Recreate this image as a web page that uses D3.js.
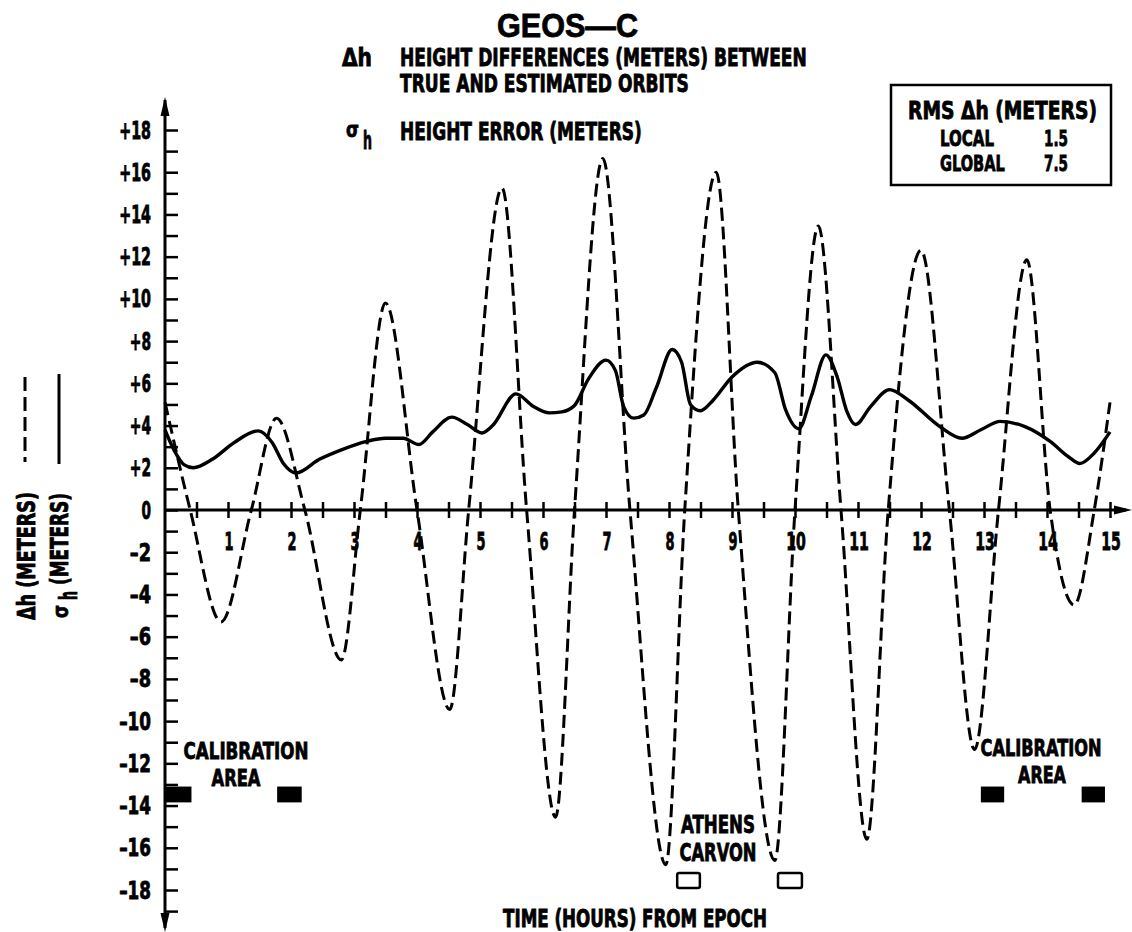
<!DOCTYPE html>
<html><head><meta charset="utf-8">
<script src="https://cdn.jsdelivr.net/npm/d3@7"></script>
<style>body{margin:0;background:#fff}</style>
</head><body>
<svg id="chart" width="1132" height="932"></svg>
<script>
// ---------- data ----------
const xTickValues = [1,2,3,4,5,6,7,8,9,10,11,12,13,14,15];
const xTickLabels = ["1","2","3","4","5","6","7","8","9","10","11","12","13","14","15"];
const yTickValues = [18,16,14,12,10,8,6,4,2,0,-2,-4,-6,-8,-10,-12,-14,-16,-18];
const yTickLabels = ["+18","+16","+14","+12","+10","+8","+6","+4","+2","0","–2","–4","–6","–8","–10","–12","–14","–16","–18"];

// Δh (dashed): [hours, meters]
const deltaH = [[0,5.1],[0.4,0],[0.89,-5.3],[1.37,0],[1.77,4.35],[2.22,0],[2.8,-7.1],[3.1,0],
  [3.5,9.8],[4.0,0],[4.52,-9.45],[4.82,0],[5.35,15.25],[5.74,0],[6.2,-14.55],[6.5,0],
  [6.95,16.65],[7.38,0],[7.95,-16.8],[8.25,0],[8.75,16.0],[9.1,0],[9.68,-16.6],[10.0,0],
  [10.37,13.45],[10.73,0],[11.14,-15.6],[11.48,0],[12.0,12.3],[12.45,0],[12.85,-11.35],[13.23,0],
  [13.68,11.85],[14.05,0],[14.43,-4.5],[14.75,0],[15.0,5.1]];

// σh (solid): [hours, meters]
const sigmaH = [[0,3.8],[0.15,2.8],[0.3,2.15],[0.45,2.0],[0.75,2.4],[1.1,3.2],[1.48,3.75],[1.7,3.2],
  [1.88,2.2],[2.08,1.75],[2.45,2.4],[2.8,2.85],[3.2,3.25],[3.5,3.4],[3.78,3.4],[4.03,3.1],
  [4.25,3.7],[4.55,4.4],[4.8,4.05],[5.03,3.65],[5.2,4.0],[5.57,5.5],[5.85,4.9],[6.1,4.6],
  [6.3,4.65],[6.5,4.95],[6.72,6.2],[7.0,7.1],[7.15,6.6],[7.28,4.9],[7.44,4.35],[7.6,4.5],
  [7.8,5.8],[8.05,7.6],[8.2,7.0],[8.34,5.0],[8.5,4.7],[8.7,5.2],[9.0,6.3],[9.4,7.0],
  [9.68,6.5],[9.85,4.75],[10.06,3.85],[10.26,5.4],[10.49,7.35],[10.67,6.3],[10.82,4.7],
  [10.96,4.05],[11.2,4.9],[11.5,5.7],[11.8,5.2],[12.3,3.95],[12.65,3.4],[12.95,3.8],
  [13.26,4.2],[13.65,3.95],[14.05,3.25],[14.35,2.5],[14.52,2.2],[14.75,2.7],[15.0,3.7]];

const calibrationAreas = [[0,0.42],[1.78,2.17],[12.95,13.32],[14.55,14.92]];
const trackingStations = [[8.13,8.49],[9.73,10.11]];
const rmsRows = [["LOCAL","1.5"],["GLOBAL","7.5"]];

// ---------- drawing ----------
const COND = "'DejaVu Sans Condensed','Liberation Sans Narrow','DejaVu Sans',sans-serif";
const svg = d3.select("#chart");
const x = d3.scaleLinear().domain([0,15]).range([165,1110]);
const y = d3.scaleLinear().domain([-18,18]).range([890,130]);

// text squeezed horizontally to a target width (keeps tall condensed look)
function label(parent, s, px, py, size, width, opts={}) {
  const g = parent.append("g").attr("transform",`translate(${px},${py})${opts.rotate?" rotate(-90)":""}`);
  const t = g.append("text").attr("x",0).attr("y",0)
    .attr("font-family", opts.family || COND).attr("font-weight", opts.weight || "bold")
    .attr("font-size",size).attr("fill","#000")
    .attr("stroke", opts.stroke===0 ? "none" : "#000").attr("stroke-width", opts.stroke===undefined ? 0.8 : opts.stroke)
    .attr("text-anchor", opts.anchor || "start").text(s);
  if (width) {
    const w = t.node().getComputedTextLength();
    t.attr("transform",`scale(${(width/w).toFixed(4)},1)`);
  }
  return g;
}

// y ticks (right side of axis, every meter)
const gy = svg.append("g").attr("transform",`translate(${x(0)},0)`)
  .call(d3.axisRight(y).tickValues(d3.range(-19,19)).tickSize(13).tickFormat(""));
gy.select(".domain").remove();
gy.selectAll(".tick line").attr("stroke","#000").attr("stroke-width",2.5);

// y labels
const gyl = svg.append("g");
yTickValues.forEach((v,i)=>{
  const s = yTickLabels[i];
  label(gyl, s, x(0)-14, y(v)+8.5, 24, s.length===1 ? 9.5 : s.length*10.6, {anchor:"end"});
});

// x ticks every half hour crossing the axis
const halfHours = d3.range(0.5,15.01,0.5);
const gx1 = svg.append("g").attr("transform",`translate(0,${y(0)})`)
  .call(d3.axisBottom(x).tickValues(halfHours).tickSize(8).tickFormat(""));
const gx2 = svg.append("g").attr("transform",`translate(0,${y(0)})`)
  .call(d3.axisTop(x).tickValues(halfHours).tickSize(8).tickFormat(""));
[gx1,gx2].forEach(g=>{g.select(".domain").remove();
  g.selectAll(".tick line").attr("stroke","#000").attr("stroke-width",2.5);});

// x labels
const gxl = svg.append("g");
xTickValues.forEach((v,i)=>{
  const s = xTickLabels[i];
  label(gxl, s, x(v)+1, y(0)+40, 24, s.length===1 ? 9 : s.length*9.8, {anchor:"middle"});
});

// axes lines + arrows
svg.append("line").attr("x1",x(0)).attr("x2",x(0)).attr("y1",100).attr("y2",928)
  .attr("stroke","#000").attr("stroke-width",3);
svg.append("line").attr("x1",x(0)).attr("x2",1126).attr("y1",y(0)).attr("y2",y(0))
  .attr("stroke","#000").attr("stroke-width",3);
svg.append("path").attr("d",`M${x(0)},97 L${x(0)-4.5},116 L${x(0)+4.5},116 Z`).attr("fill","#000");
svg.append("path").attr("d",`M${x(0)},932 L${x(0)-4.5},913 L${x(0)+4.5},913 Z`).attr("fill","#000");
svg.append("path").attr("d",`M1132,${y(0)} L1114,${y(0)-4.5} L1114,${y(0)+4.5} Z`).attr("fill","#000");

// curves
const line = d3.line().x(d=>x(d[0])).y(d=>y(d[1])).curve(d3.curveMonotoneX);
svg.append("path").datum(sigmaH).attr("d",line).attr("fill","none")
  .attr("stroke","#000").attr("stroke-width",3.4).attr("stroke-linejoin","round");
svg.append("path").datum(deltaH).attr("d",line).attr("fill","none")
  .attr("stroke","#000").attr("stroke-width",3).attr("stroke-dasharray","13,6");

// calibration & station boxes
svg.selectAll("rect.cal").data(calibrationAreas).join("rect").attr("class","cal")
  .attr("x",d=>x(d[0])).attr("width",d=>x(d[1])-x(d[0]))
  .attr("y",y(-13.1)).attr("height",y(-13.85)-y(-13.1)).attr("fill","#000");
svg.selectAll("rect.sta").data(trackingStations).join("rect").attr("class","sta")
  .attr("x",d=>x(d[0])).attr("width",d=>x(d[1])-x(d[0]))
  .attr("y",y(-17.2)).attr("height",y(-17.9)-y(-17.2)).attr("rx",2)
  .attr("fill","#fff").attr("stroke","#000").attr("stroke-width",2.5);

// annotations
label(svg,"CALIBRATION",246,759,23,125,{anchor:"middle"});
label(svg,"AREA",236,786,23,49,{anchor:"middle"});
label(svg,"CALIBRATION",1041,756,23,121,{anchor:"middle"});
label(svg,"AREA",1042,783,23,48,{anchor:"middle"});
label(svg,"ATHENS",718,833,24,74,{anchor:"middle"});
label(svg,"CARVON",718,861,24,77,{anchor:"middle"});
label(svg,"TIME (HOURS) FROM EPOCH",635,927,24,264,{anchor:"middle"});

// title block
label(svg,"GEOS—C",497,37,34,141,{family:"'Liberation Sans','DejaVu Sans',sans-serif",stroke:0.8});
label(svg,"Δh",342,66,24,30);
label(svg,"HEIGHT DIFFERENCES (METERS) BETWEEN",400,66,24,407);
label(svg,"TRUE AND ESTIMATED ORBITS",400,92,24,289);
label(svg,"σ",346,137,22,13,{family:"'DejaVu Sans',sans-serif"});
label(svg,"h",363,149,24,9);
label(svg,"HEIGHT ERROR (METERS)",400,140,24,242);

// RMS box
svg.append("rect").attr("x",891).attr("y",85).attr("width",220).attr("height",100)
  .attr("fill","none").attr("stroke","#000").attr("stroke-width",2.5);
label(svg,"RMS Δh (METERS)",908,119,24,189);
rmsRows.forEach((r,i)=>{
  label(svg,r[0],940,146+i*25,22,r[0].length*10.8);
  label(svg,r[1],1068,146+i*25,22,24,{anchor:"end"});
});

// rotated y-axis legend
svg.append("line").attr("x1",25).attr("x2",25).attr("y1",377).attr("y2",462)
  .attr("stroke","#000").attr("stroke-width",3).attr("stroke-dasharray","14,6");
svg.append("line").attr("x1",59).attr("x2",59).attr("y1",374).attr("y2",464)
  .attr("stroke","#000").attr("stroke-width",3);
label(svg,"Δh (METERS)",35,620,24,128,{rotate:true});
label(svg,"σ",68,618,22,13,{rotate:true,family:"'DejaVu Sans',sans-serif"});
label(svg,"h",77,600,24,9,{rotate:true});
label(svg,"(METERS)",68,585,24,92,{rotate:true});
</script>
</body></html>
